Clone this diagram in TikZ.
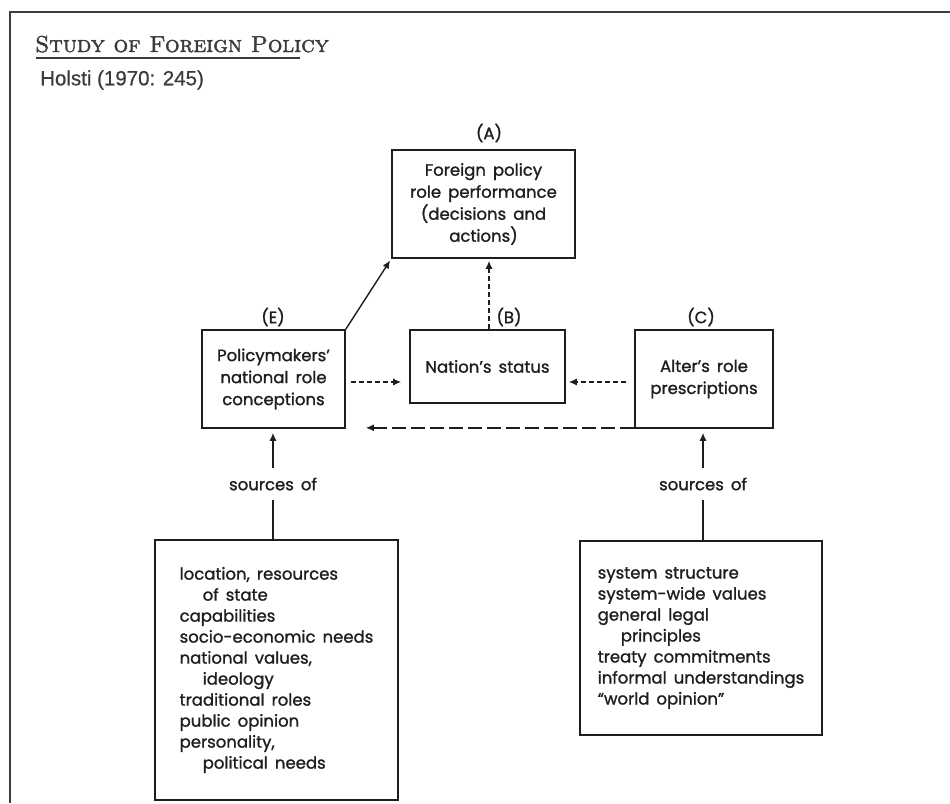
\documentclass[tikz,border=0pt]{standalone}
\usepackage{fontspec}
\newfontfamily\diag[FakeBold=1.2,WordSpace=1.6]{Poppins}
\newfontfamily\arialf[FakeBold=0.6]{Liberation Sans}
\newfontfamily\titlef[FakeBold=1.8]{Latin Modern Roman Caps}
\usetikzlibrary{arrows.meta}
\definecolor{ink}{HTML}{1E1E1E}
\definecolor{frame}{HTML}{3C3C3C}
\begin{document}
\begin{tikzpicture}[x=1pt,y=-1pt,
  box/.style={draw=ink,line width=1.6pt,inner sep=0pt,align=center,text=ink,
     font=\diag\fontsize{16.5}{22}\selectfont},
  lst/.style={box,align=left,font=\diag\fontsize{16.5}{21}\selectfont},
  lbl/.style={text=ink,font=\diag\fontsize{16.5}{18}\selectfont,inner sep=0pt},
  conn/.style={draw=ink,line width=1.4pt,-{Latex[length=8pt,width=7pt]}},
  sdash/.style={conn,dash pattern=on 5pt off 3pt},
  ldash/.style={conn,dash pattern=on 14pt off 5pt}]
\useasboundingbox (0,0) rectangle (950,803);
\fill[white] (0,0) rectangle (950,803);
% frame
\draw[frame,line width=2.2pt] (950,12) -- (10,12) -- (10,803);
% title
\node[anchor=base west,inner sep=0pt,text=frame,font=\titlef\fontsize{23}{26}\selectfont] (title) at (35,52) {Study of Foreign Policy};
\draw[frame,line width=2pt] (36,58) -- (300,58);
\node[anchor=west,inner sep=0pt,text=frame,font=\arialf\fontsize{20.5}{24}\selectfont] (ref) at (40,80) {Holsti (1970: 245)};
% boxes
\node[box,minimum width=183pt,minimum height=108pt] (A) at (483.5,204) {Foreign policy\\role performance\\(decisions and\\actions)};
\node[box,minimum width=143pt,minimum height=98pt] (E) at (273.5,379) {Policymakers’\\national role\\conceptions};
\node[box,minimum width=155pt,minimum height=73pt] (B) at (487.5,366.5) {Nation’s status};
\node[box,minimum width=138pt,minimum height=98pt] (C) at (704,379) {Alter’s role\\prescriptions};
\node[lst,minimum width=243pt,minimum height=260pt] (L) at (276.5,670) {location, resources\\\hspace*{1.4em}of state\\capabilities\\socio-economic needs\\national values,\\\hspace*{1.4em}ideology\\traditional roles\\public opinion\\personality,\\\hspace*{1.4em}political needs};
\node[lst,minimum width=242pt,minimum height=194pt] (R) at (701,638) {system structure\\system-wide values\\general legal\\\hspace*{1.4em}principles\\treaty commitments\\informal understandings\\“world opinion”};
% letters
\node[lbl] (la) at (489,133) {(A)};
\node[lbl] (le) at (273,317) {(E)};
\node[lbl] (lb) at (509,317) {(B)};
\node[lbl] (lc) at (701,317) {(C)};
% sources labels
\node[lbl,minimum height=32pt] (s1) at (273,484) {sources of};
\node[lbl,minimum height=32pt] (s2) at (703,484) {sources of};
% connectors
\draw[conn,shorten >=2pt] (E.north east) -- (A.south west);
\draw[sdash,shorten >=2pt] (B.north -| 489,0) -- (A.south -| 489,0);
\coordinate (eb) at ([yshift=-3pt]E.east);
\draw[sdash,shorten <=5pt,shorten >=8pt] (eb) -- (B.west |- eb);
\draw[sdash,shorten <=8pt,shorten >=3pt] (C.west |- eb) -- (B.east |- eb);
\draw[ldash,shorten >=20pt] ([yshift=1pt]C.south west) -- ([yshift=1pt]E.south east);
\draw[conn,shorten >=4pt] (s1.north) -- (s1 |- E.south);
\draw[conn,shorten >=4pt] (s2.north) -- (s2 |- C.south);
\draw[draw=ink,line width=1.4pt] (s1.south) -- (s1 |- L.north);
\draw[draw=ink,line width=1.4pt] (s2.south) -- (s2 |- R.north);
\end{tikzpicture}
\end{document}
